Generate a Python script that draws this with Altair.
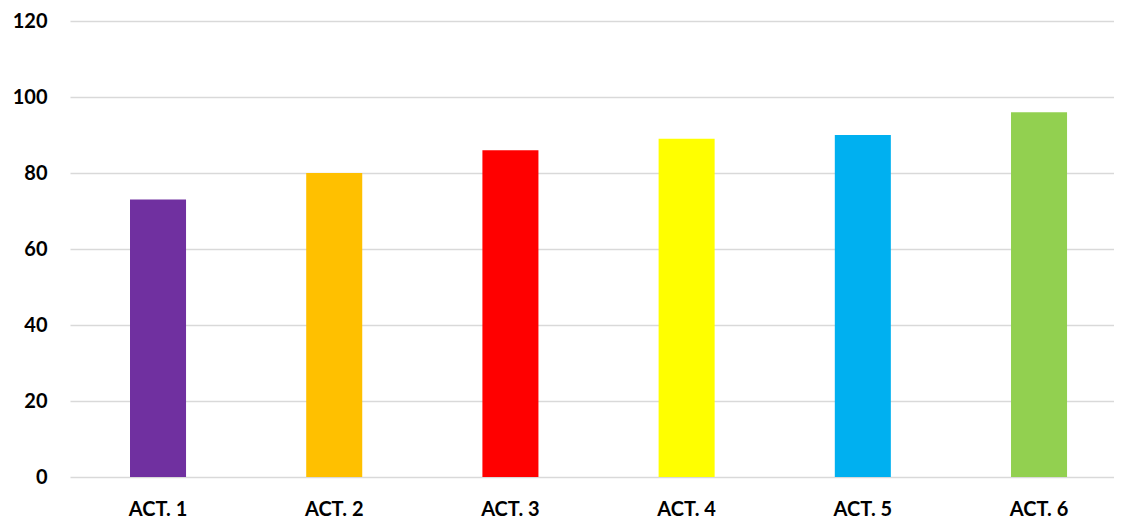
import altair as alt
import pandas as pd

categories = ["ACT. 1", "ACT. 2", "ACT. 3", "ACT. 4", "ACT. 5", "ACT. 6"]
values = [73, 80, 86, 89, 90, 96]
colors = ["#7030A0", "#FFC000", "#FF0000", "#FFFF00", "#00B0F0", "#92D050"]
y_ticks = [0, 20, 40, 60, 80, 100, 120]

df = pd.DataFrame({"cat": categories, "val": values})

FONT = "Lato"

chart = alt.Chart(df).mark_bar().encode(
    x=alt.X("cat:N", sort=categories, title=None,
            scale=alt.Scale(paddingInner=0.682, paddingOuter=0.3035, align=0.561),
            axis=alt.Axis(labelAngle=0, labelFont=FONT, labelFontSize=20,
                          labelFontWeight="bold", labelColor="#000000",
                          labelPadding=22, ticks=False, domain=False,
                          grid=False, maxExtent=30, minExtent=30)),
    y=alt.Y("val:Q", title=None,
            scale=alt.Scale(domain=[0, 120], nice=False),
            axis=alt.Axis(values=y_ticks, labelFont=FONT, labelFontSize=20,
                          labelFontWeight="bold", labelColor="#000000",
                          labelPadding=23, ticks=False, domain=False,
                          grid=True, gridColor="#D9D9D9", gridWidth=1.5,
                          minExtent=62, maxExtent=62)),
    color=alt.Color("cat:N", sort=categories, legend=None,
                    scale=alt.Scale(domain=categories, range=colors)),
).properties(
    width=1044, height=456,
    padding={"left": 0, "top": 3, "right": 0, "bottom": 0},
).configure_view(stroke=None)

chart.save("out.html", embed_options={"renderer": "svg", "actions": False})
